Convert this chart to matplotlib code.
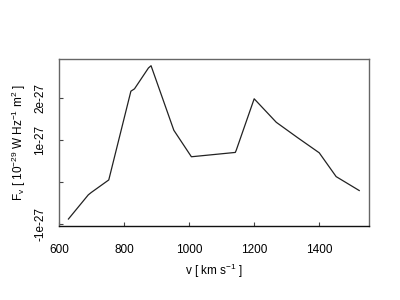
import matplotlib
matplotlib.use("Agg")
import matplotlib.pyplot as plt

plt.rcParams['font.family'] = ['Liberation Sans', 'DejaVu Sans']
plt.rcParams['mathtext.fontset'] = 'custom'
plt.rcParams['mathtext.rm'] = 'Liberation Sans'
plt.rcParams['mathtext.it'] = 'Liberation Sans:italic'
plt.rcParams['mathtext.bf'] = 'Liberation Sans:bold'

velocity = [629, 690, 699, 753, 821, 832, 875, 883, 953, 1007,
            1142, 1145, 1200, 1268, 1333, 1400, 1452, 1523]
flux = [-0.874e-27, -0.30e-27, -0.244e-27, 0.055e-27, 2.165e-27, 2.22e-27,
        2.717e-27, 2.77e-27, 1.236e-27, 0.606e-27, 0.709e-27, 0.764e-27,
        1.984e-27, 1.425e-27, 1.063e-27, 0.70e-27, 0.134e-27, -0.197e-27]

xticks = [600, 800, 1000, 1200, 1400]
yticks = [-1e-27, 0, 1e-27, 2e-27]
yticklabels = ['-1e-27', '', '1e-27', '2e-27']

fig = plt.figure(figsize=(4, 3), dpi=100)
ax = fig.add_axes([59/400, 1 - 226/300, (369-59)/400, (226-59)/300])
ax.plot(velocity, flux, color='#222222', lw=0.9)
ax.set_xlim(600, 1553)
ax.set_ylim(-1.04e-27, 2.93e-27)
ax.set_xticks(xticks)
ax.set_xticklabels([str(t) for t in xticks], fontsize=8.5)
ax.set_yticks(yticks)
ax.set_yticklabels(yticklabels, fontsize=8.5, rotation=90, va='center')
ax.tick_params(direction='in', length=3, width=0.8, color='#444444')
ax.tick_params(axis='x', pad=13)
ax.tick_params(axis='y', pad=9)
for s in ax.spines.values():
    s.set_color('#666666')
    s.set_linewidth(1.0)
ax.spines['bottom'].set_color('#111111')
ax.set_xlabel(r'v [ km s$^{-1}$ ]', fontsize=8.5, labelpad=4)
ax.set_ylabel(r'F$_\mathrm{v}$ [ 10$^{-29}$ W Hz$^{-1}$ m$^{2}$ ]', fontsize=8.5, labelpad=5)
fig.savefig('out.png', dpi=100)
